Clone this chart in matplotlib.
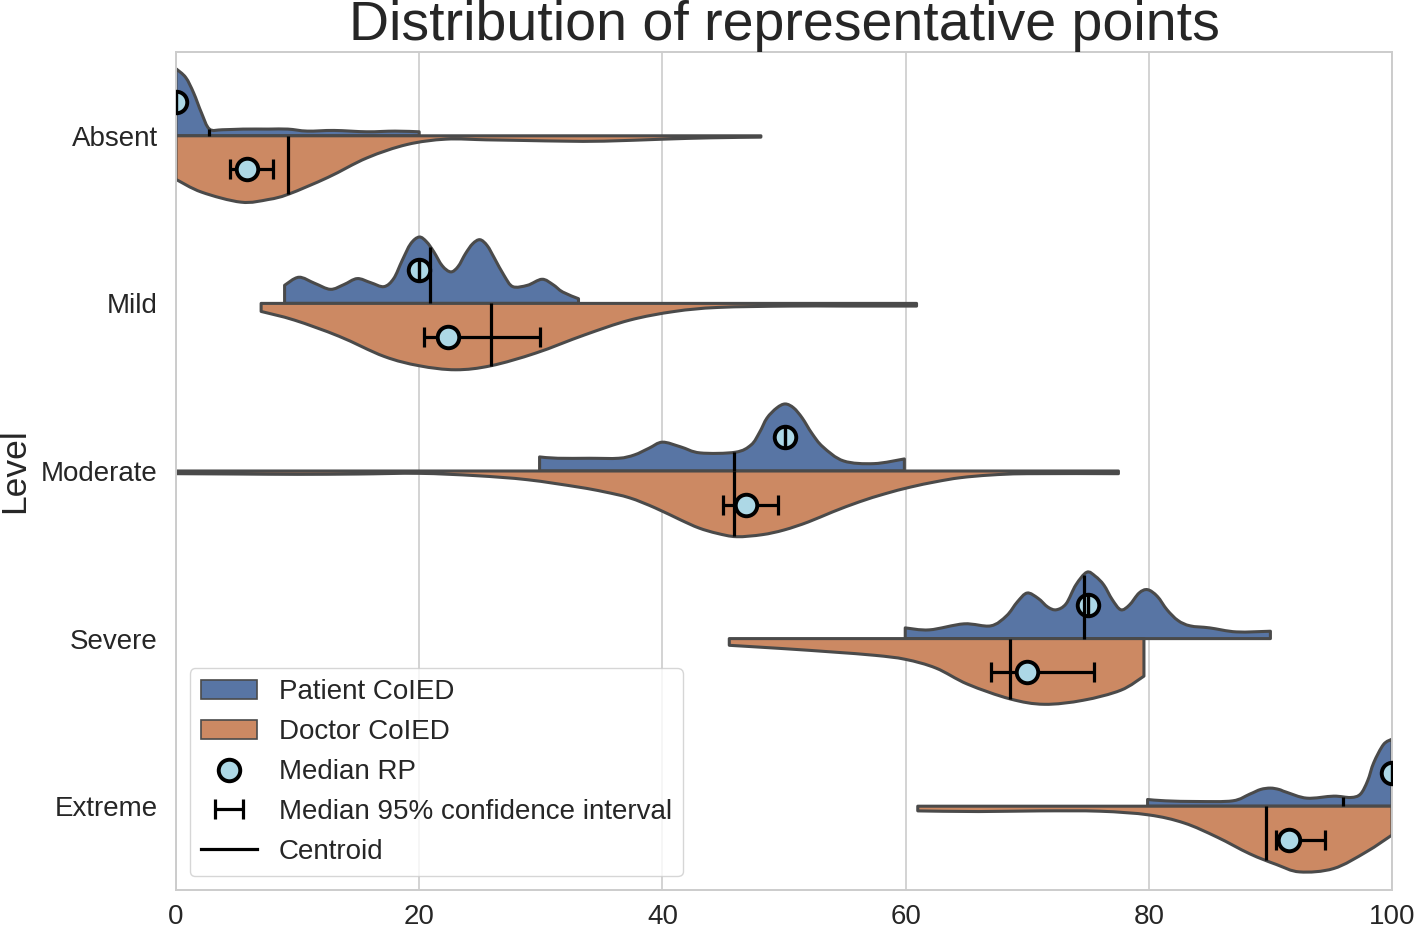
import numpy as np
import matplotlib
matplotlib.use("Agg")
import matplotlib.pyplot as plt
from matplotlib.path import Path
from matplotlib.patches import PathPatch, Patch
from matplotlib.lines import Line2D

# ---------------- data ----------------
levels = ["Absent", "Mild", "Moderate", "Severe", "Extreme"]

# Patient CoIED density profiles (x positions, relative density 0..1)
patient_x = [
    [0, 0.8, 1.45, 2.1, 2.75, 3.8, 5.5, 7.6, 9.2, 10.8, 13, 15.7, 18, 20],
    [8.93, 10.1, 11.4, 12.7, 13.8, 14.9, 16.0, 17.1, 17.9, 18.6, 19.3, 20.0, 20.6,
     21.2, 21.9, 22.6, 23.2, 23.8, 24.4, 25.0, 25.6, 26.2, 27.0, 27.7, 28.9, 30.1,
     31.0, 31.8, 33.1],
    [29.9, 31.4, 34, 36.4, 37.7, 38.9, 40.0, 41.5, 43.1, 46.0, 47.3, 48.0, 48.6, 49.4,
     50.1, 50.8, 51.5, 52.3, 53.2, 54.9, 57.4, 59.9],
    [59.97, 61.95, 64.8, 67.0, 68.3, 69.2, 70.0, 70.9, 71.7, 72.4, 73.2, 74.0, 74.9,
     75.6, 76.3, 77.0, 77.7, 78.4, 79.2, 79.9, 80.7, 81.5, 82.4, 83.4, 85.0, 87.2, 90.0],
    [79.9, 81.4, 84, 86.9, 88.3, 89.2, 90.0, 90.7, 91.3, 93.0, 95.2, 96.6, 97.4, 98.0,
     98.5, 99.3, 100],
]
patient_d = [
    [1.0, 0.87, 0.64, 0.34, 0.10, 0.09, 0.10, 0.10, 0.10, 0.07, 0.08, 0.06, 0.07, 0.06],
    [0.27, 0.39, 0.30, 0.21, 0.28, 0.37, 0.31, 0.25, 0.37, 0.64, 0.89, 0.99, 0.92,
     0.77, 0.56, 0.47, 0.55, 0.74, 0.89, 0.95, 0.86, 0.67, 0.41, 0.25, 0.27, 0.36,
     0.28, 0.17, 0.07],
    [0.21, 0.19, 0.19, 0.19, 0.24, 0.34, 0.43, 0.36, 0.27, 0.28, 0.39, 0.58, 0.79, 0.94,
     1.0, 0.94, 0.79, 0.56, 0.36, 0.15, 0.11, 0.18],
    [0.16, 0.13, 0.22, 0.19, 0.34, 0.55, 0.68, 0.60, 0.47, 0.43, 0.52, 0.80, 0.99,
     0.93, 0.80, 0.58, 0.43, 0.50, 0.68, 0.73, 0.63, 0.43, 0.27, 0.19, 0.16, 0.10, 0.11],
    [0.10, 0.08, 0.07, 0.08, 0.18, 0.25, 0.27, 0.25, 0.21, 0.12, 0.15, 0.13, 0.18, 0.38,
     0.65, 0.92, 1.0],
]

# Doctor CoIED density profiles
doctor_x = [
    [0, 2.1, 5.35, 7.6, 9.26, 12.5, 15.7, 19.0, 22.2, 25.5, 28.7, 32, 35.2, 40.1, 44, 48.1],
    [7.0, 9.75, 13.4, 17.1, 20.0, 23.0, 25.9, 29.6, 33.6, 37.3, 41.0, 44.6, 50.4, 55, 60.9],
    [0, 5, 10, 15, 20, 24.7, 28.9, 33.1, 35.2, 37.3, 39.4, 41.5, 43.0, 44.5, 46.1, 48.2,
     50.0, 52.0, 54.0, 56.2, 58.3, 60.4, 62.5, 64.5, 67, 70, 77.5],
    [45.5, 50, 54, 57.5, 60, 62.5, 65.1, 68.6, 71.4, 74.6, 77.7, 79.6],
    [61.0, 66, 71, 76.0, 80.0, 82.9, 85.6, 88.3, 90.5, 92.4, 95.2, 97.9, 100],
]
doctor_d = [
    [0.65, 0.84, 0.99, 0.95, 0.87, 0.62, 0.33, 0.13, 0.05, 0.06, 0.07, 0.08, 0.08, 0.05, 0.03, 0.02],
    [0.12, 0.25, 0.49, 0.79, 0.93, 0.99, 0.93, 0.74, 0.47, 0.25, 0.12, 0.06, 0.04, 0.04, 0.04],
    [0.04, 0.045, 0.05, 0.045, 0.035, 0.07, 0.13, 0.24, 0.31, 0.40, 0.55, 0.73, 0.85,
     0.93, 0.98, 0.95, 0.88, 0.76, 0.61, 0.46, 0.34, 0.24, 0.16, 0.10, 0.06, 0.04, 0.04],
    [0.10, 0.15, 0.20, 0.25, 0.31, 0.44, 0.68, 0.90, 0.98, 0.92, 0.77, 0.56],
    [0.07, 0.08, 0.07, 0.075, 0.13, 0.25, 0.46, 0.71, 0.87, 0.98, 0.93, 0.68, 0.43],
]

patient_median = [0.0, 20.0, 50.1, 75.0, 100.0]
patient_ci_lo = [0.0, 20.0, 50.1, 75.0, 100.0]
patient_ci_hi = [0.0, 20.0, 50.1, 75.0, 100.0]
patient_centroid = [2.75, 20.9, 45.9, 74.7, 96.0]

doctor_median = [5.85, 22.4, 46.9, 70.0, 91.5]
doctor_ci_lo = [4.4, 20.4, 45.0, 67.0, 90.5]
doctor_ci_hi = [8.0, 29.9, 49.5, 75.5, 94.5]
doctor_centroid = [9.2, 25.9, 45.9, 68.6, 89.6]

xticks = [0, 20, 40, 60, 80, 100]

# ---------------- style ----------------
BLUE = "#5875a4"
ORANGE = "#cc8963"
EDGE = "#4a4a4a"
TEXT = "#262626"
GRID = "#cccccc"
HALF = 0.4
LW_OUT = 2.2
LW_BAR = 2.3
MS = 15.5
MEW = 2.8

plt.rcParams["font.family"] = ["Liberation Sans", "DejaVu Sans"]
plt.rcParams["text.color"] = TEXT
plt.rcParams["axes.labelcolor"] = TEXT
plt.rcParams["xtick.color"] = TEXT
plt.rcParams["ytick.color"] = TEXT

fig = plt.figure(figsize=(14.15, 9.3), dpi=100)
ax = fig.add_axes([176 / 1415, 1 - 890 / 930, 1216 / 1415, 838 / 930])


def half_violin(ax, x, d, y0, sign, color):
    x = np.asarray(x, float)
    y = y0 + sign * HALF * np.asarray(d, float)
    P = np.column_stack([x, y])
    n = len(P)
    verts = [P[0]]
    codes = [Path.MOVETO]
    for i in range(n - 1):
        p0 = P[i - 1] if i > 0 else P[i]
        p1 = P[i]
        p2 = P[i + 1]
        p3 = P[i + 2] if i + 2 < n else P[i + 1]
        c1 = p1 + (p2 - p0) / 6.0
        c2 = p2 - (p3 - p1) / 6.0
        verts += [c1, c2, p2]
        codes += [Path.CURVE4] * 3
    verts += [(x[-1], y0), (x[0], y0), P[0]]
    codes += [Path.LINETO, Path.LINETO, Path.CLOSEPOLY]
    patch = PathPatch(Path(verts, codes), facecolor=color, edgecolor=EDGE,
                      linewidth=LW_OUT, joinstyle="round", zorder=2)
    ax.add_patch(patch)


for i, lev in enumerate(levels):
    half_violin(ax, patient_x[i], patient_d[i], i, -1, BLUE)
    half_violin(ax, doctor_x[i], doctor_d[i], i, +1, ORANGE)

    for med, lo, hi, cen, xs, ds, sign in [
        (patient_median[i], patient_ci_lo[i], patient_ci_hi[i], patient_centroid[i],
         patient_x[i], patient_d[i], -1),
        (doctor_median[i], doctor_ci_lo[i], doctor_ci_hi[i], doctor_centroid[i],
         doctor_x[i], doctor_d[i], +1),
    ]:
        yy = i + sign * 0.2
        eb = ax.errorbar([med], [yy], xerr=[[med - lo], [hi - med]], fmt="none",
                         ecolor="black", elinewidth=LW_BAR, capsize=7,
                         capthick=LW_BAR, zorder=3)
        for c in eb[1]:
            c.set_zorder(5)
        ax.plot([med], [yy], "o", ms=MS, mfc="lightblue", mec="black", mew=MEW,
                zorder=4)
        hc = np.interp(cen, xs, ds)
        ax.plot([cen, cen], [i, i + sign * HALF * hc], color="black", lw=LW_BAR,
                zorder=6, solid_capstyle="butt")

ax.set_xlim(0, 100)
ax.set_ylim(4.5, -0.5)
ax.set_xticks(xticks)
ax.set_xticklabels([str(t) for t in xticks])
ax.set_yticks(range(len(levels)))
ax.set_yticklabels(levels)
ax.tick_params(axis="x", length=0, pad=10, labelsize=20)
ax.tick_params(axis="y", length=0, pad=13, labelsize=20)
ax.grid(axis="x", color=GRID, lw=1.2)
ax.grid(axis="y", visible=False)
ax.set_axisbelow(True)
for s in ax.spines.values():
    s.set_color(GRID)
    s.set_linewidth(1.4)

ax.set_ylabel("Level", fontsize=25.5, labelpad=7.5)
ax.set_title("Distribution of representative points", fontsize=40, pad=6)

# legend
ci_handle = ax.errorbar([-50], [0], xerr=[[1], [1]], fmt="none", ecolor="black",
                        elinewidth=LW_BAR, capsize=7, capthick=LW_BAR)
handles = [
    Patch(facecolor=BLUE, edgecolor=EDGE, linewidth=1.2),
    Patch(facecolor=ORANGE, edgecolor=EDGE, linewidth=1.2),
    Line2D([], [], ls="none", marker="o", ms=MS, mfc="lightblue", mec="black",
           mew=MEW),
    ci_handle,
    Line2D([], [], color="black", lw=LW_BAR),
]
labels = ["Patient CoIED", "Doctor CoIED", "Median RP",
          "Median 95% confidence interval", "Centroid"]
leg = ax.legend(handles, labels, loc="lower left", fontsize=20, framealpha=0.8,
                edgecolor=GRID, fancybox=True)
ax.set_xlim(0, 100)

fig.savefig("out.png", dpi=100)
